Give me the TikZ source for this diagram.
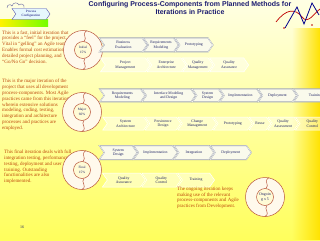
\documentclass[tikz,border=0pt]{standalone}
\usepackage{fontspec}
\setmainfont{Liberation Serif}
\newfontfamily\titlefont{Liberation Sans}
\usetikzlibrary{positioning,shapes.symbols,fadings}
\definecolor{titleblue}{RGB}{28,28,112}
\definecolor{noterust}{RGB}{190,72,12}
\definecolor{chevtext}{RGB}{30,34,100}
\definecolor{chevline}{RGB}{150,156,168}
\definecolor{chevfill}{RGB}{250,250,236}
\definecolor{ringline}{RGB}{185,85,60}
\definecolor{ringfill}{RGB}{255,249,236}
\definecolor{innerfill}{RGB}{255,251,214}
\definecolor{bgpale}{RGB}{255,255,228}
\definecolor{bgmid}{RGB}{255,255,150}
\definecolor{bgyellow}{RGB}{255,255,92}
\definecolor{stripyellow}{RGB}{255,226,0}

\begin{document}
\begin{tikzpicture}[
    x=1pt,y=-1pt,
    node distance=0.8pt,
    mainchev/.style={signal,signal to=east,signal from=west,signal pointer angle=110,
      draw=chevline,line width=0.3pt,double=white,double distance=0.4pt,fill=chevfill,
      text=chevtext,align=center,inner sep=0.5pt,font=\fontsize{3.8}{4.6}\selectfont},
    fadechev/.style={signal,signal to=east,signal from=west,signal pointer angle=110,
      draw=white,line width=0.5pt,fill=white,fill opacity=0.45,text opacity=1,
      text=chevtext,align=center,inner sep=0.5pt,font=\fontsize{3.8}{4.6}\selectfont},
    note/.style={anchor=north west,align=left,inner sep=0pt,text=noterust,
      font=\fontsize{5}{5.8}\selectfont},
    ringtext/.style={align=center,inner sep=0pt,text=chevtext,font=\fontsize{3.4}{4.4}\selectfont},
    iterring/.pic={
      \fill[ringfill] (0,0) circle[radius=19.5];
      \draw[ringline,line width=0.5pt] (0,0) circle[radius=19.5];
      \filldraw[fill=innerfill,draw=ringline,line width=0.5pt] (0,0) circle[radius=8.5];
      \draw[ringline,line width=0.5pt] (4,-19.4) .. controls (-2,-16) and (5,-12) .. (1,-8.5);
      \draw[ringline,line width=0.5pt] (0,19.4) .. controls (6,16) and (-2,12) .. (2,8.5);
    }
  ]
  \clip (0,0) rectangle (320,240);
  % background
  \shade[top color=bgpale,middle color=bgmid,bottom color=bgyellow] (0,0) rectangle (320,240);
  \fill[stripyellow,path fading=west] (292,28) rectangle (320,240);

  % logo
  \draw[red!75!black,line width=0.7pt] (276,22) .. controls (286,9) and (295,8) .. (302,17)
    .. controls (308,25) and (314,13) .. (320,9);
  \draw[blue!55!black,line width=0.8pt] (285,28) -- (297,7) -- (304,24) -- (312,3) -- (319,15);
  \fill[red!75!black] (284,28) circle[radius=0.9] (312,25) circle[radius=0.9];

  % icon
  \shade[left color=yellow!90!orange,right color=green!55!yellow] (0,20) rectangle (48,27);
  \draw[blue!25!gray,line width=0.4pt] (7,8) .. controls (7,4) and (11,4) .. (12,6)
    .. controls (13,2) and (18,2) .. (19,5) .. controls (21,3) and (25,4) .. (24,8);
  \node[signal,signal to=east,signal from=west,signal pointer angle=110,draw=blue!35!gray,
    fill=cyan!10!white,minimum width=38pt,minimum height=11pt,inner sep=0.3pt,align=center,
    text=blue!45!black,font=\fontsize{3.3}{4}\selectfont] (procconf) at (31,14) {Process\\Configuration};

  % title
  \node[align=center,text=titleblue,font=\titlefont\bfseries\fontsize{7}{8}\selectfont]
    (title) at (190,8.5) {Configuring Process-Components from Planned Methods for\\Iterations in Practice};

  % left notes
  \node[note] (initialnote) at (2,30.4) {This is a fast, initial iteration that\\
    provides a ``feel'' for the project.\\
    Vital in ``gelling'' an Agile team.\\
    Enables formal cost estimation,\\
    detailed project planning, and\\
    ``Go/No Go'' decision.};
  \node[note] (majornote) at (2,79.1) {This is the major iteration of the\\
    project that uses all development\\
    process-components. Most Agile\\
    practices came from this iteration\\
    wherein extensive solutions\\
    modeling, coding, testing,\\
    integration and architecture\\
    processes and practices are\\
    employed.};
  \node[note] (finalnote) at (4,149.9) {This final iteration deals with full\\
    integration testing, performance\\
    testing, deployment and user\\
    training. Outstanding\\
    functionalities are also\\
    implemented.};
  \node[text=chevtext,font=\fontsize{4}{5}\selectfont] (pagenum) at (22,227) {16};

  % iteration rings
  \pic at (83,50) {iterring};
  \pic at (82,112) {iterring};
  \pic at (82,170) {iterring};
  \pic at (265,197) {iterring};
  \node[ringtext] (initial) at (83,50) {Initial\\15\%};
  \node[ringtext] (major) at (82,112) {Major\\60\%};
  \node[ringtext] (final) at (82,170) {Final\\15\%};
  \node[ringtext,font=\fontsize{3.9}{4.8}\selectfont] (ongoing) at (265,197) {Ongoin\\g x 5};

  % initial iteration
  \node[mainchev,minimum height=14pt,minimum width=47.9pt,anchor=west] (bizeval) at (104,45) {Business\\Evaluation};
  \node[mainchev,minimum height=14pt,minimum width=35.1pt,right=of bizeval] (reqmodi) {Requirements\\Modeling};
  \node[mainchev,minimum height=14pt,minimum width=38.1pt,right=of reqmodi] (protoi) {Prototyping};
  \node[fadechev,minimum height=14pt,minimum width=49.9pt,anchor=west] (projmgmt) at (105,65) {Project\\Management};
  \node[fadechev,minimum height=14pt,minimum width=39.1pt,right=of projmgmt] (entarch) {Enterprise\\Architecture};
  \node[fadechev,minimum height=14pt,minimum width=29.1pt,right=of entarch] (qualmgmt) {Quality\\Management};
  \node[fadechev,minimum height=14pt,minimum width=39.1pt,right=of qualmgmt] (qualassi) {Quality\\Assurance};

  % major iteration
  \node[mainchev,minimum height=13pt,minimum width=45.5pt,anchor=west] (reqmodm) at (104,95.5) {Requirements\\Modeling};
  \node[mainchev,minimum height=13pt,minimum width=53.8pt,right=of reqmodm] (ifacemod) {Interface Modeling\\and Design};
  \node[mainchev,minimum height=13pt,minimum width=30.8pt,right=of ifacemod] (sysdesm) {System\\Design};
  \node[mainchev,minimum height=13pt,minimum width=41.8pt,right=of sysdesm] (implm) {Implementation};
  \node[mainchev,minimum height=13pt,minimum width=38.8pt,right=of implm] (deplm) {Deployment};
  \node[mainchev,minimum height=13pt,minimum width=43.8pt,right=of deplm] (trainm) {Training};
  \node[fadechev,minimum height=13pt,minimum width=45.5pt,anchor=west] (sysarch) at (107,123.5) {System\\Architecture};
  \node[fadechev,minimum height=13pt,minimum width=35.8pt,right=of sysarch] (persdes) {Persistence\\Design};
  \node[fadechev,minimum height=13pt,minimum width=38.8pt,right=of persdes] (chgmgmt) {Change\\Management};
  \node[fadechev,minimum height=13pt,minimum width=38.8pt,right=of chgmgmt] (protom) {Prototyping};
  \node[fadechev,minimum height=13pt,minimum width=21.8pt,right=of protom] (reuse) {Reuse};
  \node[fadechev,minimum height=13pt,minimum width=30.8pt,right=of reuse] (qualasmt) {Quality\\Assessment};
  \node[fadechev,minimum height=13pt,minimum width=33.8pt,right=of qualasmt] (qualctlm) {Quality\\Control};

  % final iteration
  \node[mainchev,minimum height=14pt,minimum width=37.9pt,anchor=west] (sysdesf) at (104,152.5) {System\\Design};
  \node[mainchev,minimum height=14pt,minimum width=44.1pt,right=of sysdesf] (implf) {Implementation};
  \node[mainchev,minimum height=14pt,minimum width=40.1pt,right=of implf] (integf) {Integration};
  \node[mainchev,minimum height=14pt,minimum width=41.1pt,right=of integf] (deplf) {Deployment};
  \node[fadechev,minimum height=14pt,minimum width=42.9pt,anchor=west] (qualassf) at (107,180) {Quality\\Assurance};
  \node[fadechev,minimum height=14pt,minimum width=39.1pt,right=of qualassf] (qualctlf) {Quality\\Control};
  \node[fadechev,minimum height=14pt,minimum width=37.1pt,right=of qualctlf] (trainf) {Training};

  % ongoing iteration
  \node[note] (ongoingnote) at (177,186.6) {The ongoing iteration keeps\\
    making use of the relevant\\
    process-components and Agile\\
    practices from Development.};
\end{tikzpicture}
\end{document}
